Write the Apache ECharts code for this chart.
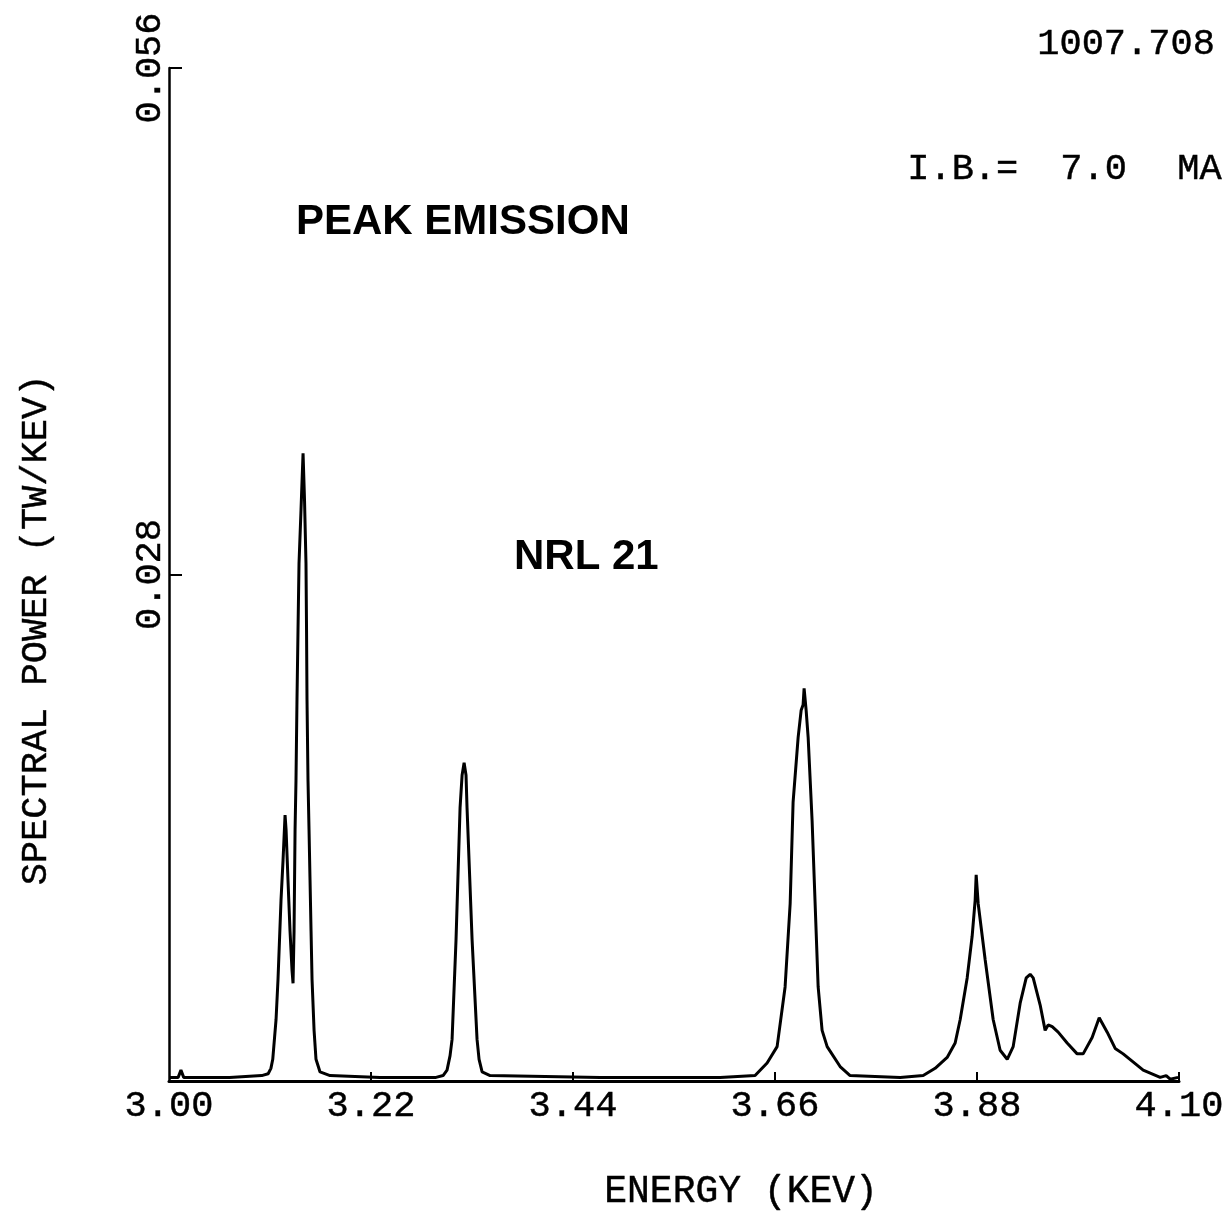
<!DOCTYPE html>
<html>
<head>
<meta charset="utf-8">
<script src="https://cdn.jsdelivr.net/npm/echarts@6/dist/echarts.min.js"></script>
<style>
html,body{margin:0;padding:0;background:#fff;}
#chart{width:1231px;height:1215px;}
</style>
</head>
<body>
<div id="chart"></div>
<script>
// Energy (keV) and spectral power (TW/keV)
const energy = [
  3.000, 3.010, 3.013, 3.016, 3.066, 3.101, 3.108, 3.111, 3.113, 3.1166,
  3.1187, 3.122, 3.1242, 3.1264, 3.1275, 3.1296, 3.1318, 3.134, 3.1351, 3.1362,
  3.1373, 3.1383, 3.1394, 3.1405, 3.1416, 3.1438, 3.146, 3.1476, 3.1492, 3.1498,
  3.1503, 3.1514, 3.1525, 3.1536, 3.1547, 3.1558, 3.158, 3.1601, 3.1645, 3.1754,
  3.2298, 3.2908, 3.2985, 3.3028, 3.3061, 3.3083, 3.3126, 3.317, 3.3192, 3.3214,
  3.3235, 3.3246, 3.3301, 3.3355, 3.3377, 3.341, 3.3497, 3.4695, 3.6002, 3.6383,
  3.6514, 3.6623, 3.671, 3.6765, 3.6797, 3.6852, 3.6885, 3.6906, 3.6917, 3.6939,
  3.6961, 3.7004, 3.7037, 3.7070, 3.7113, 3.7168, 3.7309, 3.7418, 3.7963, 3.8214,
  3.8344, 3.8475, 3.8562, 3.8617, 3.8693, 3.8747, 3.878, 3.8791, 3.8813, 3.8889,
  3.8976, 3.9052, 3.9129, 3.9194, 3.927, 3.9336, 3.9379, 3.9412, 3.9488, 3.9542,
  3.9575, 3.9619, 3.9684, 3.9782, 3.9891, 3.9956, 4.0054, 4.0131, 4.0218, 4.0305,
  4.0392, 4.061, 4.0795, 4.086, 4.0904, 4.099
];
const power = [
  0.0002, 0.0002, 0.0006, 0.0002, 0.0002, 0.0003, 0.0004, 0.0007, 0.0012, 0.0034,
  0.0056, 0.0100, 0.0122, 0.0147, 0.0139, 0.0111, 0.0083, 0.0061, 0.0054, 0.0083,
  0.0139, 0.0166, 0.0211, 0.0249, 0.0286, 0.0316, 0.0347, 0.0321, 0.0286, 0.0249,
  0.0211, 0.0166, 0.0139, 0.0111, 0.0083, 0.0056, 0.0028, 0.0012, 0.0005, 0.0003,
  0.0002, 0.0002, 0.0003, 0.0006, 0.0014, 0.0023, 0.0078, 0.0151, 0.0169, 0.0176,
  0.0169, 0.0151, 0.0078, 0.0023, 0.0012, 0.0005, 0.0003, 0.0002, 0.0002, 0.0003,
  0.0010, 0.0019, 0.0052, 0.0098, 0.0154, 0.0190, 0.0205, 0.0208, 0.0217, 0.0205,
  0.0190, 0.0144, 0.0098, 0.0052, 0.0028, 0.0019, 0.0008, 0.0003, 0.0002, 0.0003,
  0.0007, 0.0013, 0.0021, 0.0034, 0.0057, 0.0080, 0.0100, 0.0114, 0.0098, 0.0067,
  0.0034, 0.0017, 0.0012, 0.0019, 0.0043, 0.0057, 0.0059, 0.0057, 0.0042, 0.0028,
  0.0031, 0.0030, 0.0027, 0.0021, 0.0015, 0.0015, 0.0024, 0.0035, 0.0027, 0.0018,
  0.0015, 0.0006, 0.0002, 0.0003, 0.0001, 0.0002
];
const xTickLabels = [3.00, 3.22, 3.44, 3.66, 3.88, 4.10];
const xTicks = [3.22, 3.44, 3.66, 3.88, 4.10];
const yTickLabels = [0.028, 0.056];

const MONO = '"Liberation Mono", "DejaVu Sans Mono", monospace';
const SANSB = 'bold 42px "Liberation Sans", Arial, sans-serif';
const monoStyle = (t, size) => ({text: t, font: size + 'px ' + MONO, fill: '#000', stroke: '#000', lineWidth: 0.45});
const chart = echarts.init(document.getElementById('chart'), null, {renderer: 'canvas'});
const seriesData = energy.map((e, i) => [e, power[i]]);

chart.setOption({
  backgroundColor: '#ffffff',
  animation: false,
  grid: {left: 169, right: 52, top: 68, bottom: 134, containLabel: false},
  xAxis: {
    type: 'value', min: 3.0, max: 4.1,
    axisLine: {show: true, onZero: false, lineStyle: {color: '#000', width: 3}},
    axisTick: {show: true, inside: true, length: 9, customValues: xTicks, lineStyle: {color: '#000', width: 2}},
    axisLabel: {show: true, customValues: xTickLabels, margin: 7, color: '#000',
      fontFamily: MONO, fontSize: 37, textBorderColor: '#000', textBorderWidth: 0.45,
      formatter: v => v.toFixed(2)},
    splitLine: {show: false}
  },
  yAxis: {
    type: 'value', min: 0, max: 0.056,
    axisLine: {show: true, lineStyle: {color: '#000', width: 2.5}},
    axisTick: {show: true, inside: true, length: 13, customValues: yTickLabels, lineStyle: {color: '#000', width: 2}},
    axisLabel: {show: true, customValues: yTickLabels, rotate: 90, margin: 0, color: '#000',
      fontFamily: MONO, fontSize: 37, textBorderColor: '#000', textBorderWidth: 0.45,
      formatter: v => v.toFixed(3)},
    splitLine: {show: false}
  },
  graphic: [
    {type: 'text', left: 1037, top: 25, style: monoStyle('1007.708', 37)},
    {type: 'text', left: 907, top: 150, style: monoStyle('I.B.=', 37)},
    {type: 'text', left: 1060, top: 150, style: monoStyle('7.0', 37)},
    {type: 'text', left: 1177, top: 150, style: monoStyle('MA', 37)},
    {type: 'text', left: 296, top: 201, style: {text: 'PEAK EMISSION', font: SANSB, fill: '#000'}},
    {type: 'text', left: 514, top: 536, style: {text: 'NRL 21', font: SANSB, fill: '#000'}},
    {type: 'text', left: 604, top: 1173, style: monoStyle('ENERGY (KEV)', 38)},
    {type: 'text', x: 36, y: 630, rotation: Math.PI / 2,
      style: Object.assign(monoStyle('SPECTRAL POWER (TW/KEV)', 37), {align: 'center', verticalAlign: 'middle'})}
  ],
  series: [{
    type: 'line', data: seriesData, showSymbol: false, smooth: false,
    lineStyle: {color: '#000', width: 3}, clip: false
  }]
});
</script>
</body>
</html>
